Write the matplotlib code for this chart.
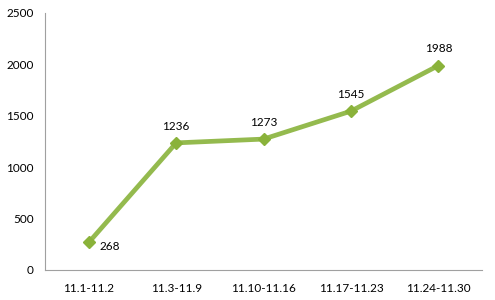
import matplotlib.pyplot as plt

# 周期与数值
periods = ['11.1-11.2', '11.3-11.9', '11.10-11.16', '11.17-11.23', '11.24-11.30']
values = [268, 1236, 1273, 1545, 1988]

plt.rcParams['font.family'] = ['Lato', 'DejaVu Sans']

fig = plt.figure(figsize=(4.95, 3.0), dpi=100)
ax = fig.add_axes([0.091, 0.1, 0.883, 0.857])

x = list(range(len(periods)))
ax.plot(x, values, color='#94BA4E', linewidth=3.4, marker='D', markersize=6,
        markerfacecolor='#8AB23A', markeredgecolor='#8AB23A', zorder=3)

for i, v in enumerate(values):
    if i == 0:
        ax.annotate(str(v), (i, v), xytext=(8, -3), textcoords='offset points',
                    ha='left', va='center', fontsize=8.5, color='black')
    else:
        ax.annotate(str(v), (i, v), xytext=(0, 8), textcoords='offset points',
                    ha='center', va='bottom', fontsize=8.5, color='black')

ax.set_xlim(-0.5, len(periods) - 0.5)
ax.set_ylim(0, 2500)
ax.set_yticks(range(0, 2501, 500))
ax.set_xticks(x)
ax.set_xticklabels(periods)

ax.spines['top'].set_visible(False)
ax.spines['right'].set_visible(False)
ax.spines['left'].set_color('#a0a0a0')
ax.spines['bottom'].set_color('#a0a0a0')
ax.tick_params(axis='both', length=0, labelsize=8.5, colors='black')
ax.tick_params(axis='y', pad=8)
ax.tick_params(axis='x', pad=9)

plt.savefig('out.png', dpi=100, facecolor='white')
